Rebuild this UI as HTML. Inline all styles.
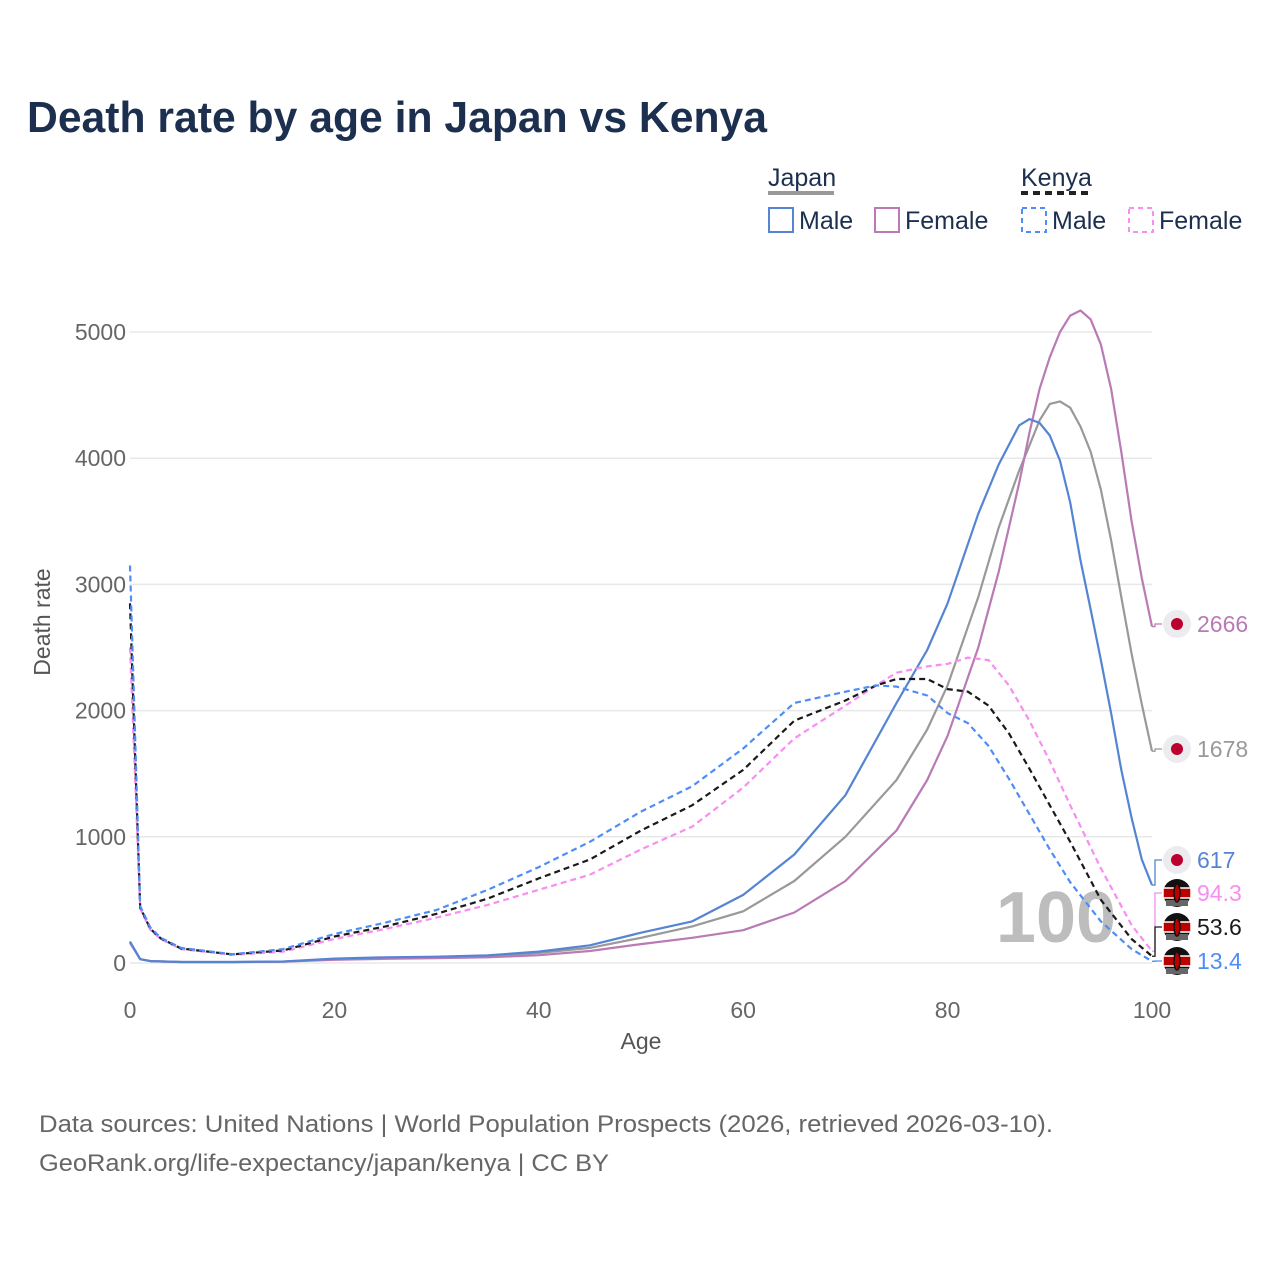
<!DOCTYPE html>
<html><head><meta charset="utf-8"><style>
body{margin:0;background:#fff;font-family:"Liberation Sans",sans-serif;}
svg text{font-family:"Liberation Sans",sans-serif;}
</style></head><body>
<svg id="c" width="1280" height="1280" viewBox="0 0 1280 1280" xmlns="http://www.w3.org/2000/svg">
<rect width="1280" height="1280" fill="#fff"/>
<text x="27" y="132" font-size="44" font-weight="bold" fill="#1d2f4f" textLength="740" lengthAdjust="spacingAndGlyphs">Death rate by age in Japan vs Kenya</text>
<g font-size="25" fill="#1d2f4f">
<text x="768" y="186">Japan</text>
<line x1="768" y1="193" x2="834" y2="193" stroke="#999" stroke-width="4"/>
<text x="1021" y="186">Kenya</text>
<line x1="1021" y1="193" x2="1091" y2="193" stroke="#222" stroke-width="4" stroke-dasharray="7,5"/>
<g><rect x="769" y="208" width="24" height="24" fill="none" stroke="#5584d3" stroke-width="2"/><text x="799" y="229">Male</text></g>
<g><rect x="875" y="208" width="24" height="24" fill="none" stroke="#b97ab6" stroke-width="2"/><text x="905" y="229">Female</text></g>
<g><rect x="1022" y="208" width="24" height="24" fill="none" stroke="#4e8df5" stroke-width="2" stroke-dasharray="5,4"/><text x="1052" y="229">Male</text></g>
<g><rect x="1129" y="208" width="24" height="24" fill="none" stroke="#f78ef0" stroke-width="2" stroke-dasharray="5,4"/><text x="1159" y="229">Female</text></g>
</g>
<g id="grid"></g>
<text x="1056" y="942" font-size="72" font-weight="bold" fill="#bdbdbd" text-anchor="middle">100</text>
<g id="plot"></g>
<text x="50" y="622" font-size="23" fill="#555" text-anchor="middle" transform="rotate(-90 50 622)">Death rate</text>
<text x="641" y="1049" font-size="23" fill="#555" text-anchor="middle">Age</text>
<text x="39" y="1132" font-size="24" fill="#666" textLength="1014" lengthAdjust="spacingAndGlyphs">Data sources: United Nations | World Population Prospects (2026, retrieved 2026-03-10).</text>
<text x="39" y="1171" font-size="24" fill="#666" textLength="570" lengthAdjust="spacingAndGlyphs">GeoRank.org/life-expectancy/japan/kenya | CC BY</text>
</svg>
<script>
const jpAges=[0,1,2,5,10,15,20,25,30,35,40,45,50,55,60,65,70,75,78,80,83,85,87,88,89,90,91,92,93,94,95,96,97,98,99,100];
const jpMale=[170,30,15,8,8,12,35,45,50,60,90,140,240,330,540,860,1330,2060,2480,2850,3560,3950,4260,4310,4280,4180,3980,3650,3190,2800,2400,1980,1530,1150,820,617];
const jpTotal=[165,30,15,8,8,11,30,40,45,55,80,120,200,290,410,650,1000,1450,1850,2200,2900,3450,3900,4100,4300,4430,4450,4400,4250,4050,3750,3350,2900,2450,2050,1678];
const jpFemale=[160,30,15,8,7,10,25,33,38,45,62,95,150,200,260,400,650,1050,1450,1800,2500,3100,3800,4200,4550,4800,5000,5130,5170,5100,4900,4550,4050,3500,3050,2666];
const keAges=[0,1,2,3,5,10,15,20,25,30,35,40,45,50,55,60,65,70,73,75,78,80,82,84,86,88,90,92,95,98,100];
const keMale=[3150,450,280,200,120,70,110,230,320,420,580,760,960,1200,1400,1700,2060,2150,2200,2190,2120,1980,1900,1720,1460,1180,900,640,330,110,13.4];
const keTotal=[2850,440,270,195,115,68,100,210,290,390,510,670,820,1050,1250,1530,1920,2080,2200,2250,2250,2170,2150,2040,1820,1540,1250,960,500,190,53.6];
const keFemale=[2500,430,260,190,110,65,90,190,270,360,460,580,700,900,1080,1390,1780,2040,2200,2300,2350,2370,2420,2400,2200,1920,1600,1250,750,300,94.3];
const yTicks=[0,1000,2000,3000,4000,5000];
const xTicks=[0,20,40,60,80,100];
const endLabels=["2666","1678","617","94.3","53.6","13.4"];

const NS="http://www.w3.org/2000/svg";
const X=a=>130+a*10.22;
const Y=v=>963-v*0.1262;
function mk(t,at,parent){const e=document.createElementNS(NS,t);for(const k in at)e.setAttribute(k,at[k]);parent.appendChild(e);return e;}
const grid=document.getElementById('grid'),plot=document.getElementById('plot');
yTicks.forEach(v=>{
 const l=mk('line',{x1:130,x2:1152,y1:Y(v),y2:Y(v),stroke:'#e8e8e8','stroke-width':1.5},grid);
 
 
 const t=mk('text',{x:126,y:Y(v)+8,'font-size':23,fill:'#666','text-anchor':'end'},grid);
 t.textContent=v;
 
 
});
xTicks.forEach(a=>{
 const t=mk('text',{x:X(a),y:1018,'font-size':23,fill:'#666','text-anchor':'middle'},grid);
 t.textContent=a;
 
 
});
function line(ages,vals,col,dash,name){
 const d=ages.map((a,i)=>(i?'L':'M')+X(a).toFixed(1)+','+Y(vals[i]).toFixed(1)).join('');
 const p=mk('path',{d:d,fill:'none',stroke:col,'stroke-width':2.2,'stroke-linejoin':'round'},plot);
 if(dash)p.setAttribute('stroke-dasharray',dash);
 
 
}
line(jpAges,jpTotal,'#999',null,'japan-total-line');
line(jpAges,jpFemale,'#b97ab6',null,'japan-female-line');
line(jpAges,jpMale,'#5584d3',null,'japan-male-line');
line(keAges,keFemale,'#f78ef0','6,4','kenya-female-line');
line(keAges,keTotal,'#1a1a1a','6,4','kenya-total-line');
line(keAges,keMale,'#4e8df5','6,4','kenya-male-line');
const ends=[[jpFemale[jpFemale.length-1],624,'#b97ab6','jp'],[jpTotal[jpTotal.length-1],749,'#999','jp'],[jpMale[jpMale.length-1],860,'#5584d3','jp'],
 [keFemale[keFemale.length-1],893,'#f78ef0','ke'],[keTotal[keTotal.length-1],927,'#1a1a1a','ke'],[keMale[keMale.length-1],961,'#4e8df5','ke']];
ends.forEach((e,i)=>{
 const [v,ly,col,c]=e;
 const g=mk('g',{},plot);
 
 
 mk('path',{d:`M1152,${Y(v)}L1155,${Y(v)}L1155,${ly}L1162,${ly}`,fill:'none',stroke:col,'stroke-width':1.3},g);
 if(c==='jp'){mk('circle',{cx:1177,cy:ly,r:14,fill:'#ececf0'},g);mk('circle',{cx:1177,cy:ly,r:6,fill:'#bc002d'},g);}
 else{mk('circle',{cx:1177,cy:ly,r:14,fill:'#111'},g);mk('rect',{x:1163,y:ly-5,width:28,height:10,fill:'#bb0000',stroke:'#fff','stroke-width':1.5},g);
  mk('rect',{x:1166,y:ly+7,width:22,height:6,fill:'#666'},g);mk('ellipse',{cx:1177,cy:ly,rx:3,ry:9,fill:'#bb0000',stroke:'#111','stroke-width':1.5},g);}
 const t=mk('text',{x:1197,y:ly+8,'font-size':23,fill:col},g);t.textContent=endLabels[i];
});
</script>
</body></html>
